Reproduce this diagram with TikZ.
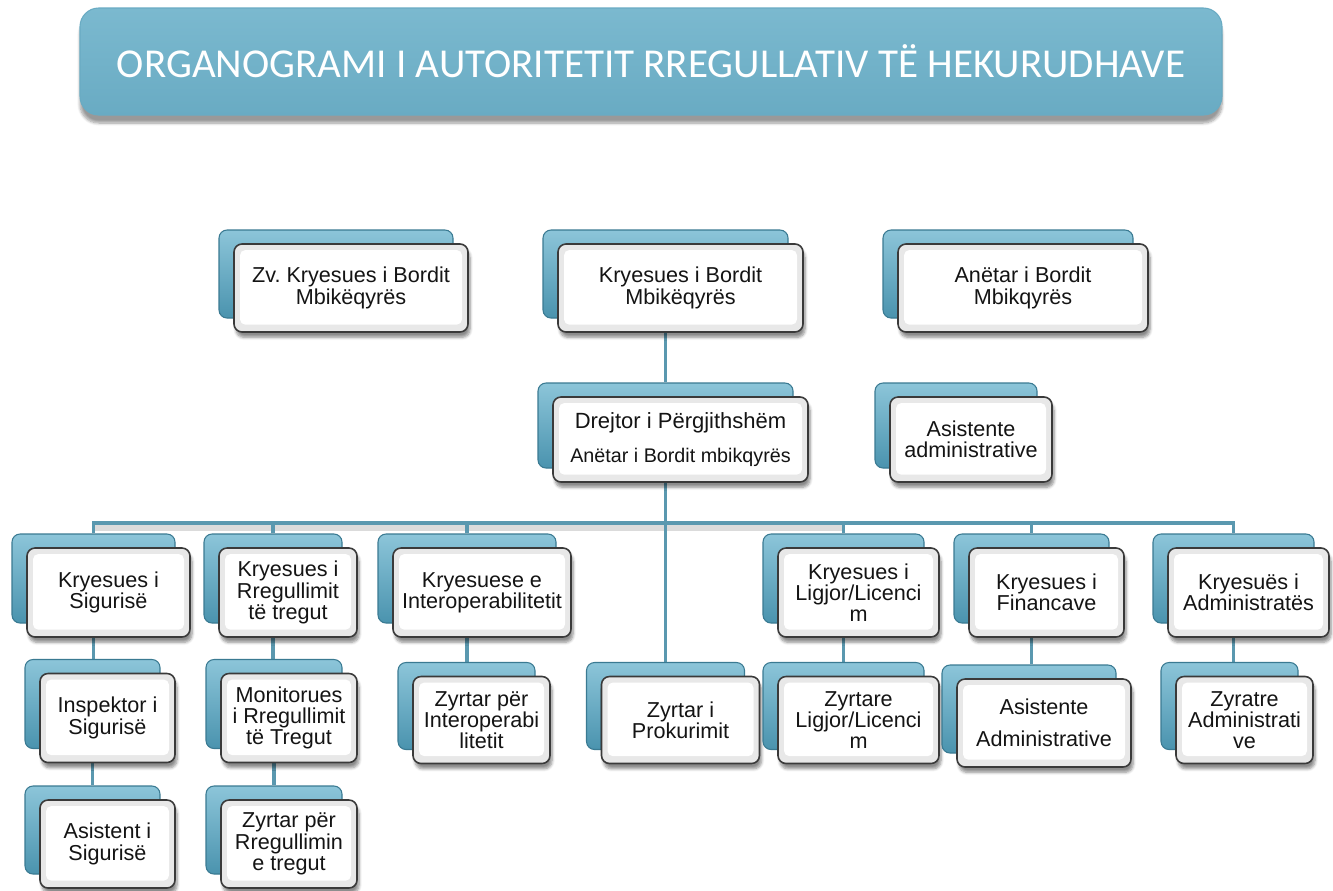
\documentclass[tikz,border=0pt]{standalone}
\usepackage{fontspec}
\setmainfont{Liberation Sans}
\newfontfamily\titlefont{Carlito}
\usetikzlibrary{shadows,shadows.blur,backgrounds,calc}
\definecolor{conn}{HTML}{5A98AF}
\definecolor{backtop}{HTML}{8CC5D9}
\definecolor{backbot}{HTML}{4A93AE}
\definecolor{backdraw}{HTML}{3A7A92}
\definecolor{frontdraw}{HTML}{3A3A3A}
\definecolor{ttop}{HTML}{7BB9CF}
\definecolor{tmid}{HTML}{4A92AE}
\definecolor{tbot}{HTML}{69ABC3}
\tikzset{
  frontbox/.style={draw=frontdraw, line width=1.2pt, rounded corners=6pt,
    fill=black!9, align=center, inner sep=2pt, text=black!92,
    font=\frenchspacing\fontsize{16.2}{16}\selectfont,
    blur shadow={shadow xshift=1.5pt, shadow yshift=-4pt, shadow blur steps=6, shadow opacity=45},
    path picture={\fill[white, rounded corners=4pt]
      ([xshift=4.5pt,yshift=-4.5pt]path picture bounding box.north west) rectangle
      ([xshift=-4.5pt,yshift=5.5pt]path picture bounding box.south east);}},
  backbox/.style={draw=backdraw, line width=0.8pt, rounded corners=6pt,
    top color=backtop, bottom color=backbot, inner sep=0pt},
  link/.style={draw=conn, line width=2.8pt},
  titlebox/.style={draw=tbot, line width=0.8pt, rounded corners=14pt,
    top color=ttop, middle color=tmid, bottom color=tbot, text=white,
    blur shadow={shadow xshift=0pt, shadow yshift=-6pt, shadow blur steps=8, shadow opacity=40}}
}
\newcommand\orgbox[6]{%
  \node[backbox, minimum width=#4*0.75pt, minimum height=#5*0.75pt] (#1-b) at (#2-15,#3-14) {};
  \node[frontbox, minimum width=#4*0.75pt, minimum height=#5*0.75pt] (#1) at (#2,#3) {#6};
}
\begin{document}
\begin{tikzpicture}[x=0.75pt,y=-0.75pt]
\useasboundingbox (0,0) rectangle (1333,890);

\node[titlebox, minimum width=1142*0.75pt, minimum height=107*0.75pt] (title) at (651,61.5)
  {\titlefont\fontsize{30.8}{31}\selectfont ORGANOGRAMI I AUTORITETIT RREGULLATIV TË HEKURUDHAVE};

\orgbox{zv}{351}{288}{234}{88}{Zv. Kryesues i Bordit\\Mbikëqyrës}
\orgbox{kb}{680.5}{288}{245}{88}{Kryesues i Bordit\\Mbikëqyrës}
\orgbox{an}{1023}{288}{250}{88}{Anëtar i Bordit\\Mbikqyrës}
\orgbox{dr}{680.5}{439.5}{255}{85}{{\fontsize{16.5}{17}\selectfont Drejtor i Përgjithshëm}\\[9pt]{\fontsize{14.8}{15}\selectfont Anëtar i Bordit mbikqyrës}}
\orgbox{aa}{971}{439.5}{162}{85}{Asistente\\administrative}

\orgbox{s1}{108.5}{592.5}{163}{89}{Kryesues i\\Sigurisë}
\orgbox{s2}{288}{592.5}{138}{89}{Kryesues i\\Rregullimit\\të tregut}
\orgbox{s3}{482}{592.5}{178}{89}{Kryesuese e\\Interoperabilitetit}
\orgbox{s4}{858.5}{592.5}{161}{89}{Kryesues i\\Ligjor/Licenci\\m}
\orgbox{s5}{1046.5}{592.5}{155}{89}{Kryesues i\\Financave}
\orgbox{s6}{1248.5}{592.5}{161}{89}{Kryesuës i\\Administratës}

\orgbox{i1}{107.5}{718}{135}{89}{Inspektor i\\Sigurisë}
\orgbox{m1}{289}{718}{136}{89}{Monitorues\\i Rregullimit\\të Tregut}
\orgbox{z3}{481.5}{720}{137}{87}{Zyrtar për\\Interoperabi\\litetit}
\orgbox{pr}{680.5}{720}{158}{87}{Zyrtar i\\Prokurimit}
\orgbox{zl}{858.5}{720}{161}{87}{Zyrtare\\Ligjor/Licenci\\m}
\orgbox{as}{1044}{723}{174}{88}{Asistente\\[8pt]Administrative}
\orgbox{za}{1244.5}{720}{137}{87}{Zyratre\\Administrati\\ve}

\orgbox{a1}{107.5}{844}{135}{88}{Asistent i\\Sigurisë}
\orgbox{z2}{289}{844}{136}{88}{Zyrtar për\\Rregullimin\\e tregut}

\begin{pgfonlayer}{background}
  \coordinate (bus) at (665.5,523);
  \fill[black!14] (92,525) rectangle (845,531);
  \draw[link] (kb-b.south) -- (dr-b.north);
  \draw[link] (dr-b.south) -- (pr-b.north);
  \draw[link] (s1-b.north) |- (bus) -| (s6-b.north);
  \foreach \n in {s2,s3,s4,s5} \draw[link] (\n-b.north) |- (bus);
  \draw[link] (s1-b.south) -- (s1-b.south |- i1-b.north);
  \draw[link] (i1-b.south) -- (i1-b.south |- a1-b.north);
  \draw[link] (s2-b.south) -- (s2-b.south |- m1-b.north);
  \draw[link] (m1-b.south) -- (m1-b.south |- z2-b.north);
  \draw[link] (s3-b.south) -- (s3-b.south |- z3-b.north);
  \draw[link] (s4-b.south) -- (s4-b.south |- zl-b.north);
  \draw[link] (s5-b.south) -- (s5-b.south |- as-b.north);
  \draw[link] (s6-b.south) -- (s6-b.south |- za-b.north);
\end{pgfonlayer}
\end{tikzpicture}
\end{document}
